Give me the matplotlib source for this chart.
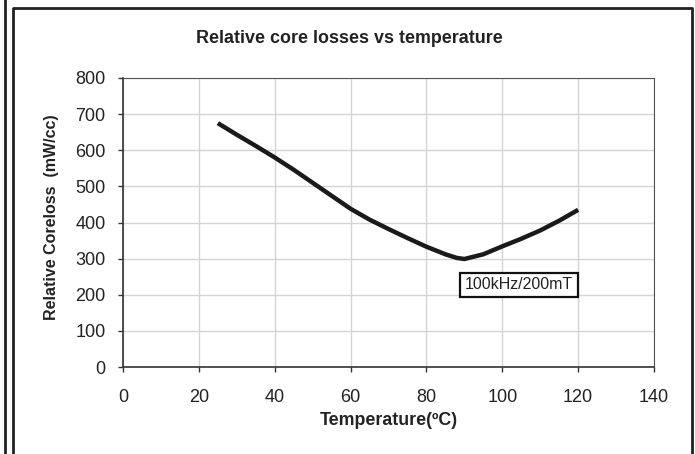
import matplotlib.pyplot as plt
from matplotlib.lines import Line2D

plt.rcParams['font.family'] = ['Liberation Sans', 'DejaVu Sans']

# Relative core loss
temperature = [25, 30, 35, 40, 45, 50, 55, 60, 65, 70, 75, 80, 85, 88, 90, 95, 100, 105, 110, 115, 120]
coreloss = [675, 643, 612, 580, 546, 510, 474, 438, 408, 382, 357, 333, 312, 302, 299, 312, 334, 355, 378, 405, 435]

x_ticks = [0, 20, 40, 60, 80, 100, 120, 140]
y_ticks = [0, 100, 200, 300, 400, 500, 600, 700, 800]

fig = plt.figure(figsize=(6.95, 4.54), dpi=100)
ax = fig.add_axes([0.177, 0.1916, 0.764, 0.6366])

ax.plot(temperature, coreloss, color='#1a1a1a', linewidth=3.2, solid_capstyle='butt', zorder=3)

ax.set_xlim(0, 140)
ax.set_ylim(0, 800)
ax.set_xticks(x_ticks)
ax.set_yticks(y_ticks)
ax.grid(True, color='#d4d4d4', linewidth=1.0)
ax.set_axisbelow(True)
ax.tick_params(direction='out', length=3.6, width=1, color='#333333',
               labelsize=13, labelcolor='#222222')
ax.tick_params(axis='x', pad=12)
ax.tick_params(axis='y', pad=9)
for side in ['left', 'bottom']:
    ax.spines[side].set_color('#333333')
    ax.spines[side].set_linewidth(1.2)
for side in ['top', 'right']:
    ax.spines[side].set_color('#555555')
    ax.spines[side].set_linewidth(0.8)

ax.set_xlabel('Temperature(ºC)', fontsize=12.8, fontweight='bold', color='#222222', labelpad=4.5)
ax.set_ylabel('Relative Coreloss  (mW/cc)', fontsize=11.5, fontweight='bold', color='#222222')
ax.yaxis.set_label_coords(-0.121, 0.517)
ax.set_title('Relative core losses vs temperature', fontsize=12.9, fontweight='bold',
             color='#222222', x=0.427, pad=25)

ax.text(104.4, 228, '100kHz/200mT', fontsize=11.5, color='#222222', ha='center', va='center',
        bbox=dict(boxstyle='square,pad=0.28', facecolor='white', edgecolor='#111111', linewidth=1.6),
        zorder=4)

# outer chart frame
W, H = 695, 454
def fx(px):
    return px / W
def fy(py):
    return 1 - py / H
fig.add_artist(Line2D([fx(5), fx(5)], [fy(0), fy(454)], color='#222222', linewidth=2))
fig.add_artist(Line2D([fx(13.5), fx(13.5), fx(691.5), fx(691.5)],
                      [fy(454), fy(7.5), fy(7.5), fy(454)], color='#222222', linewidth=2))

fig.savefig('out.png', dpi=100)
